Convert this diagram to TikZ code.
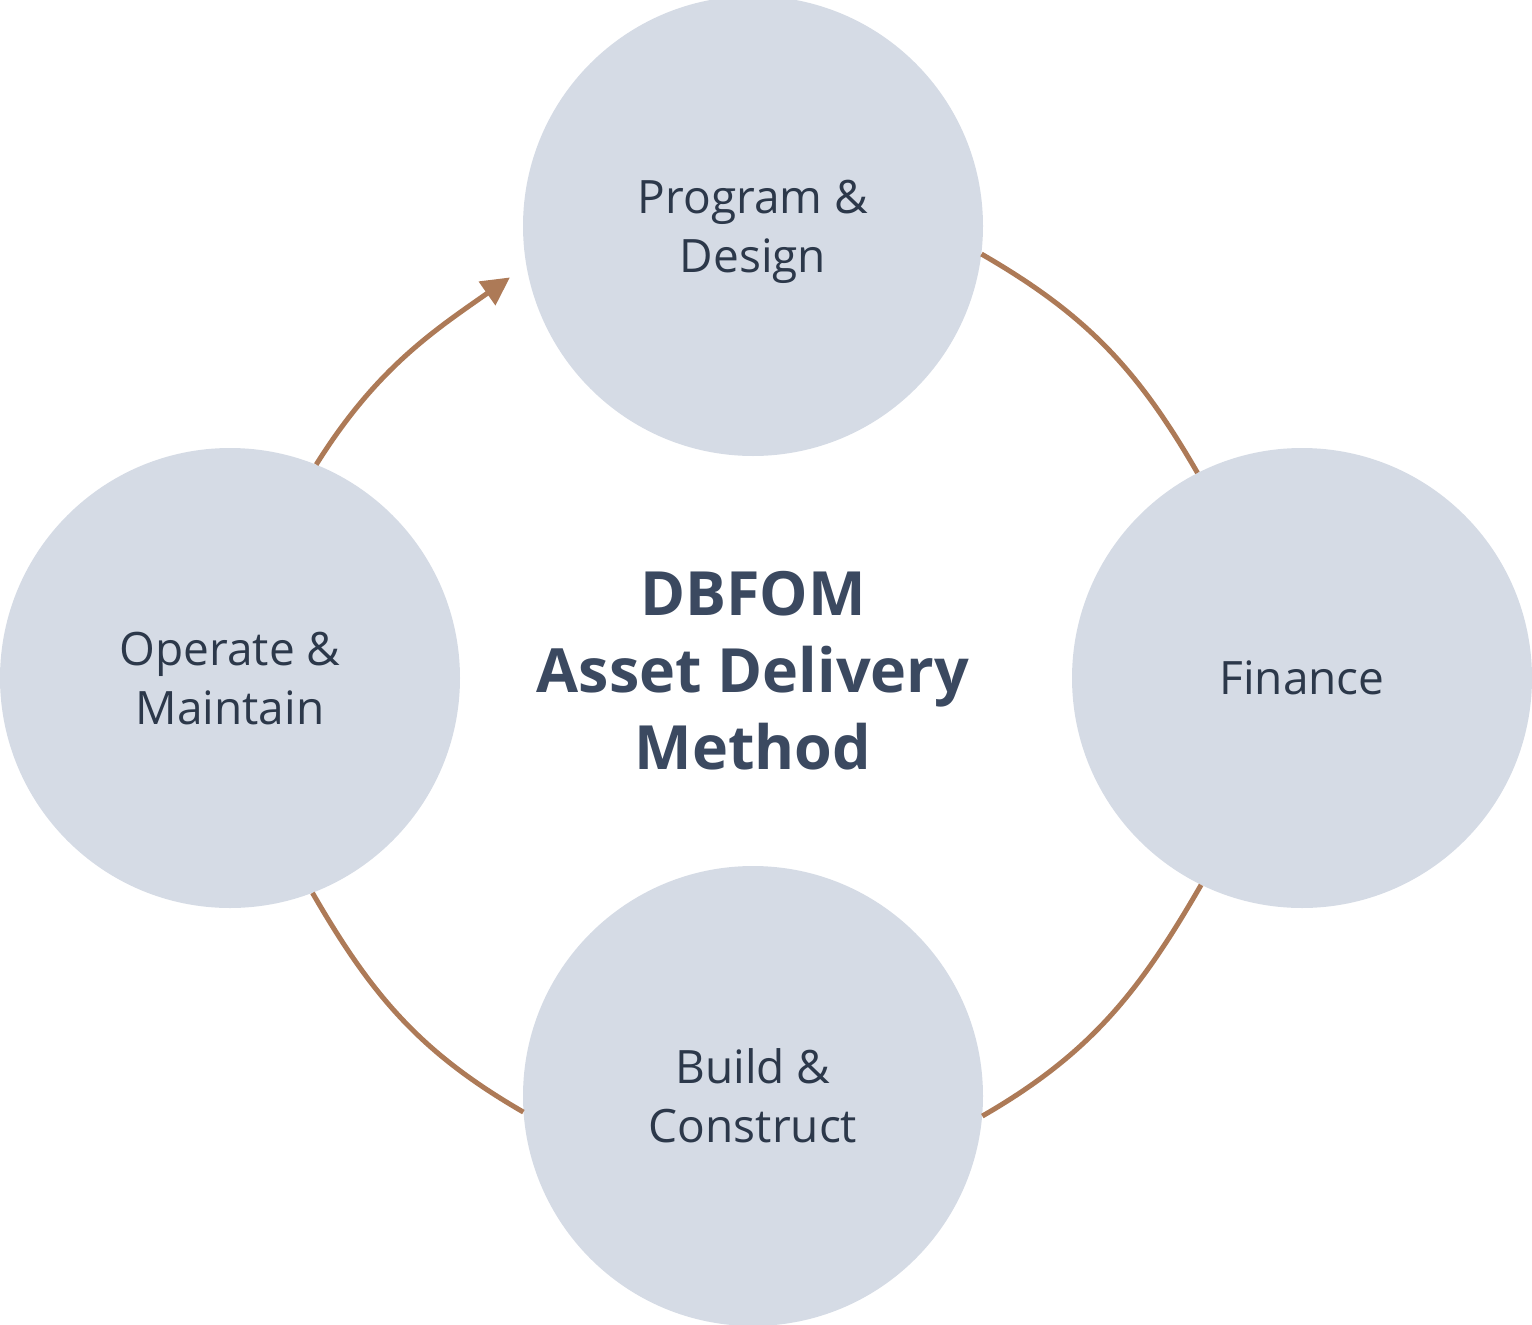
\documentclass[tikz,border=0pt]{standalone}
\usepackage{fontspec}
\setmainfont{Open Sans}
\usepackage{xcolor}
\usepackage{tikz}
\usetikzlibrary{arrows.meta}
\definecolor{colFill}{RGB}{213,219,229}
\definecolor{colText}{RGB}{44,56,74}
\definecolor{colTitle}{RGB}{59,73,96}
\definecolor{colArc}{RGB}{173,122,87}

\begin{document}
\begin{tikzpicture}[x=1pt, y=-1pt, >=Triangle,
    phase/.style={circle, fill=colFill, minimum size=460pt, inner sep=0pt,
                  align=center, text=colText, text depth=0pt,
                  font=\fontsize{46}{59}\selectfont},
    cyclearc/.style={colArc, line width=5pt}]

\useasboundingbox (0,0) rectangle (1532,1325);

% Phases du cycle
\node[phase] (pd)  at (753,226)  {Program \&\\Design};
\node[phase] (fin) at (1302,678) {Finance};
\node[phase] (bc)  at (753,1096) {Build \&\\Construct};
\node[phase] (om)  at (230,678)  {Operate \&\\Maintain};

% Titre central
\node[align=center, text=colTitle, font=\fontsize{61}{77}\selectfont\bfseries]
    (title) at (753,671) {DBFOM\\Asset Delivery\\Method};

% Arcs entre les phases
\draw[cyclearc] (pd.-7.5)  to[out=-30, in=120] (fin.117);
\draw[cyclearc] (fin.-116) to[out=-120, in=30] (bc.-5);
\draw[cyclearc] (bc.184)   to[out=150, in=-60] (om.-69);
\draw[cyclearc, -{Triangle[length=28pt, width=28pt]}, shorten >=20pt]
    (om.68) to[out=58, in=215] (pd.190);

\end{tikzpicture}
\end{document}
